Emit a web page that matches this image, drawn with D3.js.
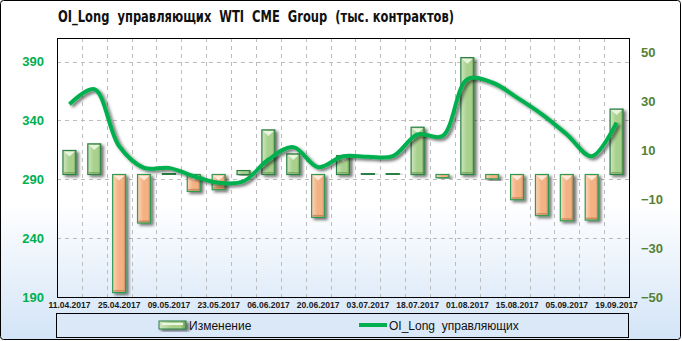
<!DOCTYPE html>
<html>
<head>
<meta charset="utf-8">
<script src="https://cdn.jsdelivr.net/npm/d3@7"></script>
<style>
body{margin:0;background:#fff;}
svg{display:block;}
text{white-space:pre;}
</style>
</head>
<body>
<div id="chart"></div>
<script>
// data
var dates=["11.04.2017","18.04.2017","25.04.2017","02.05.2017","09.05.2017","16.05.2017","23.05.2017","30.05.2017",
	"06.06.2017","13.06.2017","20.06.2017","27.06.2017","03.07.2017","11.07.2017","18.07.2017","25.07.2017",
	"01.08.2017","08.08.2017","15.08.2017","29.08.2017","05.09.2017","12.09.2017","19.09.2017"];
var change=[9.8,12.5,-48.2,-19.8,0.4,-6.9,-6.2,1.6,18.2,8.4,-17.5,7.7,0.4,0.4,19.3,-1.3,47.7,-1.8,-10.3,-16.8,-18.9,-18.6,26.7];
var oiLong=[353.7,366.5,318,299.7,299.7,292.6,287,288.3,306.8,317.3,300.3,309.6,309.1,309.6,328.1,326.7,375,372.2,359.4,345.2,328.1,309.6,338.1];
var leftTicks=[190,240,290,340,390];
var rightTicks=[-50,-30,-10,10,30,50];
var seriesNames=["Изменение","OI_Long  управляющих"];
var title="OI_Long  управляющих  WTI  CME  Group  (тыс. контрактов)";

var W=682,H=341;
var plot={left:57,right:629,top:38,bottom:297};

var svg=d3.select("#chart").append("svg").attr("width",W).attr("height",H);
var defs=svg.append("defs");

// background gradient, white to pale blue
var bg=defs.append("linearGradient").attr("id","bg").attr("x1",0).attr("y1",0).attr("x2",0).attr("y2",1);
bg.append("stop").attr("offset","0.6").attr("stop-color","#ffffff");
bg.append("stop").attr("offset","1").attr("stop-color","#d3e4f7");

function hGrad(id,c1,c2,c3){
	var g=defs.append("linearGradient").attr("id",id).attr("x1",0).attr("y1",0).attr("x2",1).attr("y2",0);
	g.append("stop").attr("offset","0").attr("stop-color",c1);
	g.append("stop").attr("offset","0.45").attr("stop-color",c2);
	g.append("stop").attr("offset","0.8").attr("stop-color",c2);
	g.append("stop").attr("offset","1").attr("stop-color",c3);
}
hGrad("gUp","#cfe6bf","#a9d18e","#6e9c50");
hGrad("gDn","#fcd6b8","#f4b183","#c4875b");

var sh=defs.append("filter").attr("id","shadow").attr("x","-40%").attr("y","-30%").attr("width","180%").attr("height","160%");
sh.append("feDropShadow").attr("dx",2.5).attr("dy",2).attr("stdDeviation",1.8).attr("flood-color","#000").attr("flood-opacity",0.55);

svg.append("rect").attr("x",0.5).attr("y",0.5).attr("width",W-2).attr("height",H-2).attr("rx",3)
	.attr("fill","url(#bg)").attr("stroke","#000");

// scales
var x=d3.scaleBand().domain(dates).range([plot.left,plot.right]).paddingInner(0).paddingOuter(0);
var yL=d3.scaleLinear().domain([190,410]).range([plot.bottom,plot.top]);
var yR=d3.scaleLinear().domain([-50,50]).range([plot.bottom,52]);

// grid
var grid=svg.append("g").attr("stroke","#bdbdbd").attr("stroke-dasharray","4,4").attr("stroke-width",1);
grid.selectAll(".h").data(leftTicks.slice(1)).enter().append("line")
	.attr("x1",plot.left).attr("x2",plot.right)
	.attr("y1",function(d){return Math.round(yL(d))+0.5;}).attr("y2",function(d){return Math.round(yL(d))+0.5;});
grid.selectAll(".v").data(dates.slice(1)).enter().append("line")
	.attr("x1",function(d){return Math.round(x(d))+0.5;}).attr("x2",function(d){return Math.round(x(d))+0.5;})
	.attr("y1",plot.top).attr("y2",plot.bottom+4);

// bars with a bevel look
var bw=13;
var bars=svg.append("g").selectAll("g").data(change).enter().append("g").attr("filter","url(#shadow)");
bars.each(function(v,i){
	var g=d3.select(this);
	var cx=x(dates[i])+x.bandwidth()/2;
	var y0=yR(0),y1=yR(v);
	var top=Math.min(y0,y1),h=Math.max(Math.abs(y1-y0),1);
	var up=v>=0;
	g.append("rect").attr("x",cx-bw/2).attr("y",top).attr("width",bw).attr("height",h)
		.attr("fill",up?"url(#gUp)":"url(#gDn)")
		.attr("stroke",up?"#2b7f45":"#2f9a52").attr("stroke-width",1.2);
	if(h>6){
		var th=Math.min(6,h/2);
		g.append("path")
			.attr("d","M"+(cx-bw/2+1)+","+(top+1)+"L"+(cx+bw/2-1)+","+(top+1)+"L"+cx+","+(top+th)+"Z")
			.attr("fill",up?"#eef7e6":"#fff0e2").attr("opacity",0.9);
		g.append("rect").attr("x",cx-bw/2+1).attr("y",top+h-2.5).attr("width",bw-2).attr("height",1.5)
			.attr("fill",up?"#6e9c50":"#b97a4f").attr("opacity",0.7);
	}
});

// line
var line=d3.line()
	.x(function(d,i){return x(dates[i])+x.bandwidth()/2;})
	.y(function(d){return yL(d);})
	.curve(d3.curveCatmullRom.alpha(0.5));
svg.append("path").datum(oiLong).attr("d",line).attr("fill","none")
	.attr("stroke","#00b050").attr("stroke-width",4).attr("stroke-linejoin","round")
	.attr("filter","url(#shadow)");

// frame
svg.append("rect").attr("x",plot.left+0.5).attr("y",plot.top+0.5)
	.attr("width",plot.right-plot.left).attr("height",plot.bottom-plot.top)
	.attr("fill","none").attr("stroke","#000");

// axes
var axL=svg.append("g").attr("transform","translate("+(plot.left-13)+",0)")
	.call(d3.axisLeft(yL).tickValues(leftTicks).tickSize(0).tickPadding(0));
axL.select(".domain").remove();
axL.selectAll("text").attr("fill","#00b050").style("font","bold 13px 'Liberation Sans', Arial, sans-serif");

var axR=svg.append("g").attr("transform","translate("+(plot.right+12)+",0)")
	.call(d3.axisRight(yR).tickValues(rightTicks).tickSize(0).tickPadding(0));
axR.select(".domain").remove();
axR.selectAll("text").attr("fill","#548235").style("font","bold 13px 'Liberation Sans', Arial, sans-serif");

var axB=svg.append("g").attr("transform","translate(0,"+(plot.bottom+2)+")")
	.call(d3.axisBottom(x).tickValues(dates.filter(function(d,i){return i%2==0;})).tickSize(0).tickPadding(3));
axB.select(".domain").remove();
axB.selectAll("text").attr("fill","#1a1a1a").style("font","bold 8.5px 'Liberation Sans', Arial, sans-serif");

// title, squeezed to the width it has in the picture
svg.append("text").attr("x",58).attr("y",22).text(title)
	.attr("textLength",396).attr("lengthAdjust","spacingAndGlyphs")
	.style("font","bold 15px 'Liberation Sans Narrow', 'DejaVu Sans Condensed', Arial, sans-serif")
	.attr("fill","#111");

// legend
var lg=svg.append("g");
lg.append("rect").attr("x",56.5).attr("y",313.5).attr("width",572).attr("height",24)
	.attr("fill","#dbe8f8").attr("stroke","#000");
lg.append("rect").attr("x",159).attr("y",321).attr("width",27).attr("height",8)
	.attr("fill","url(#gUp)").attr("stroke","#2b7f45").attr("filter","url(#shadow)");
lg.append("rect").attr("x",162).attr("y",323).attr("width",21).attr("height",2).attr("fill","#eef7e6");
lg.append("text").attr("x",189).attr("y",330).text(seriesNames[0])
	.style("font","12px 'Liberation Sans', Arial, sans-serif").attr("fill","#111");
lg.append("line").attr("x1",359).attr("x2",387).attr("y1",325).attr("y2",325)
	.attr("stroke","#00b050").attr("stroke-width",4);
lg.append("text").attr("x",389).attr("y",330).text(seriesNames[1])
	.style("font","12px 'Liberation Sans', Arial, sans-serif").attr("fill","#111");
</script>
</body>
</html>
